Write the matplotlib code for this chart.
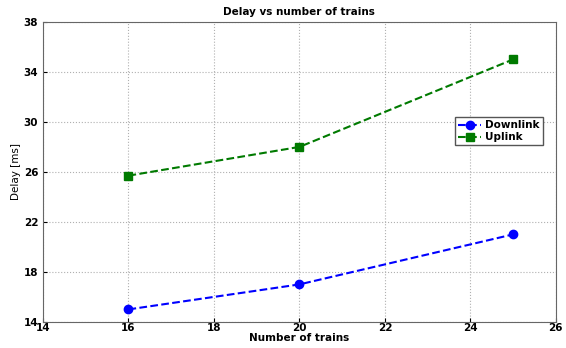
import numpy as np
import matplotlib.pyplot as plt

# data
trains = [16, 20, 25]
downlink = [15, 17, 21]
uplink = [25.7, 28, 35]

plt.rcParams['font.family'] = 'DejaVu Sans'
plt.rcParams['font.weight'] = 'bold'

fig = plt.figure(figsize=(5.66, 3.48), dpi=100)
ax = fig.add_axes([0.076, 0.075, 0.906, 0.862])

ax.plot(trains, downlink, '--o', color='blue', lw=1.5, ms=6, label='Downlink')
ax.plot(trains, uplink, '--s', color='#007a00', lw=1.5, ms=6, label='Uplink')

ax.set_xlim(14, 26)
ax.set_ylim(14, 38)
ax.set_xticks(np.arange(14, 27, 2))
ax.set_yticks(np.arange(14, 39, 4))
ax.tick_params(labelsize=7.5, direction='in', length=3)
ax.tick_params(axis='x', pad=1)
ax.grid(True, ls=':', color='#b0b0b0', lw=0.8)

ax.set_xlabel('Number of trains', fontsize=7.5, fontweight='bold', labelpad=0)
ax.set_ylabel('Delay [ms]', fontsize=7.5, fontweight='normal', labelpad=2)
ax.set_title('Delay vs number of trains', fontsize=7.5, fontweight='bold', pad=5)

for s in ax.spines.values():
    s.set_color('#666666')

ax.legend(loc='upper right', bbox_to_anchor=(0.985, 0.7), fontsize=7.5,
          fancybox=False, edgecolor='#555555', framealpha=1,
          handlelength=2.2, borderpad=0.3, labelspacing=0.2, handletextpad=0.4)

fig.savefig('out.png', dpi=100)
